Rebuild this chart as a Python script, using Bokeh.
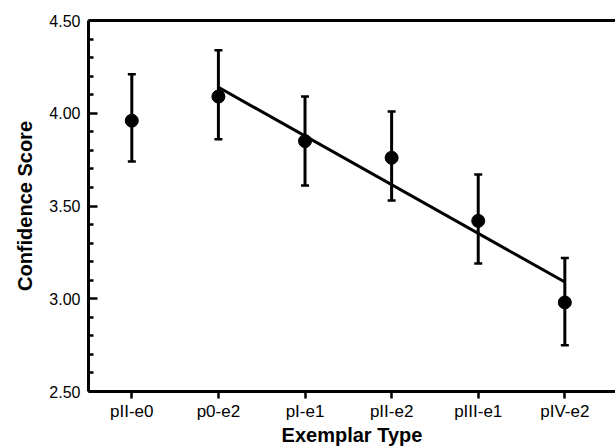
from bokeh.plotting import figure
from bokeh.models import (ColumnDataSource, Whisker, FixedTicker, LinearAxis,
                          PrintfTickFormatter, Range1d, TeeHead)
from bokeh.embed import file_html
from bokeh.resources import INLINE

# ---- data ----
categories = ["pII-e0", "p0-e2", "pI-e1", "pII-e2", "pIII-e1", "pIV-e2"]
means = [3.96, 4.09, 3.85, 3.76, 3.42, 2.98]
upper = [4.21, 4.34, 4.09, 4.01, 3.67, 3.22]
lower = [3.74, 3.86, 3.61, 3.53, 3.19, 2.75]
fit_categories = ["p0-e2", "pIV-e2"]
fit_values = [4.14, 3.09]
y_ticks = [2.5, 3.0, 3.5, 4.0, 4.5]
y_minor_ticks = [2.6, 2.7, 2.8, 2.9, 3.1, 3.2, 3.3, 3.4, 3.6, 3.7, 3.8, 3.9,
                 4.1, 4.2, 4.3, 4.4]

pos = {c: i + 1 for i, c in enumerate(categories)}
xs = [pos[c] for c in categories]
fit_xs = [pos[c] for c in fit_categories]

FONT = "Liberation Sans"

p = figure(width=615, height=448, output_backend="svg", toolbar_location=None,
           x_range=Range1d(0.5, 6.585), y_range=Range1d(2.5, 4.5),
           min_border_left=88, min_border_right=0, min_border_top=20,
           min_border_bottom=57, x_axis_location="below")
p.outline_line_color = None
p.grid.visible = False
p.background_fill_color = "white"
p.border_fill_color = "white"

src = ColumnDataSource(dict(x=xs, mean=means, upper=upper, lower=lower))

# regression line
p.line(fit_xs, fit_values, line_color="black", line_width=3)

# error bars
w = Whisker(source=src, base="x", upper="upper", lower="lower",
            line_color="black", line_width=3,
            upper_head=TeeHead(size=8, line_width=2.5, line_color="black"),
            lower_head=TeeHead(size=8, line_width=2.5, line_color="black"))
p.add_layout(w)

p.scatter("x", "mean", source=src, size=13, fill_color="black",
          line_color="black")

# x axis
xa = p.xaxis[0]
xa.ticker = FixedTicker(ticks=xs)
xa.major_label_overrides = {x: c for x, c in zip(xs, categories)}
xa.axis_line_width = 3
xa.axis_line_color = "black"
xa.major_tick_out = 7
xa.major_tick_in = 0
xa.major_tick_line_width = 2.5
xa.minor_tick_line_color = None
xa.major_label_text_font = FONT
xa.major_label_text_font_size = "17px"
xa.major_label_text_color = "black"
xa.major_label_standoff = 3
xa.axis_label = "Exemplar Type"
xa.axis_label_text_font = FONT
xa.axis_label_text_font_size = "20px"
xa.axis_label_text_font_style = "bold"
xa.axis_label_text_color = "black"
xa.axis_label_standoff = 0

# y axis
ya = p.yaxis[0]
ya.ticker = FixedTicker(ticks=y_ticks, minor_ticks=y_minor_ticks)
ya.formatter = PrintfTickFormatter(format="%.2f")
ya.axis_line_width = 3
ya.axis_line_color = "black"
ya.major_tick_in = 9
ya.major_tick_out = 0
ya.minor_tick_in = 5
ya.minor_tick_out = 0
ya.major_tick_line_width = 2.5
ya.minor_tick_line_width = 2.5
ya.major_label_text_font = FONT
ya.major_label_text_font_size = "16px"
ya.major_label_text_color = "black"
ya.major_label_standoff = 8
ya.axis_label = "Confidence Score"
ya.axis_label_text_font = FONT
ya.axis_label_text_font_size = "20px"
ya.axis_label_text_font_style = "bold"
ya.axis_label_text_color = "black"
ya.axis_label_standoff = 10

# top border line
top = LinearAxis(ticker=FixedTicker(ticks=[]), major_label_text_font_size="0px",
                 axis_line_width=3, axis_line_color="black",
                 major_tick_line_color=None, minor_tick_line_color=None)
p.add_layout(top, "above")

open("out.html", "w").write(file_html(p, INLINE))
